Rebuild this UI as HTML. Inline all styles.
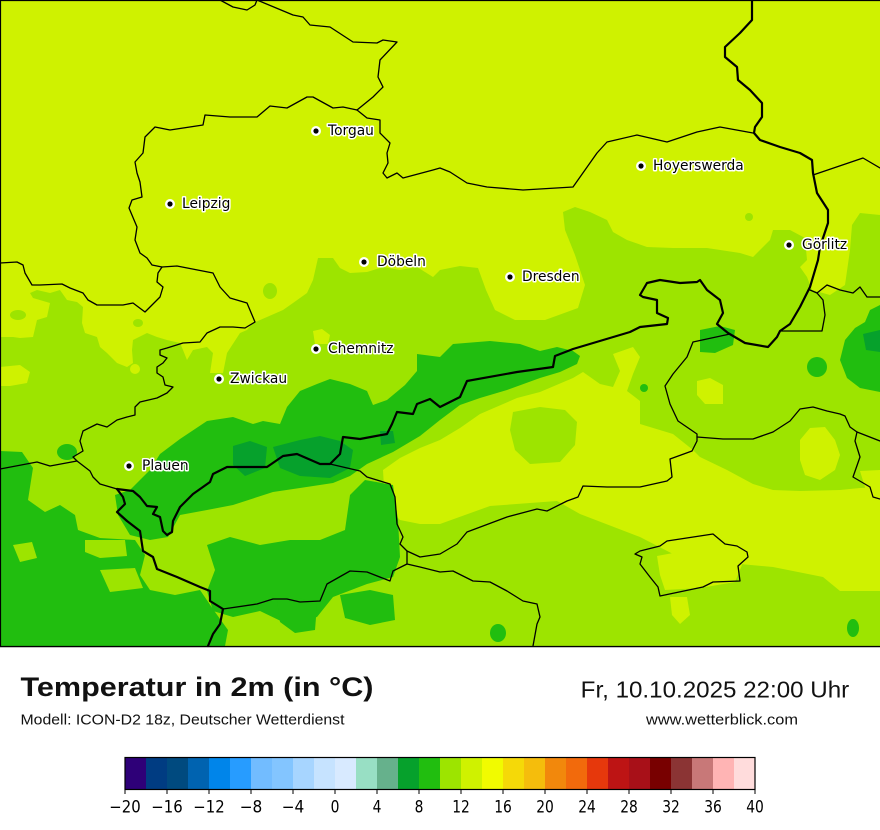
<!DOCTYPE html>
<html>
<head>
<meta charset="utf-8">
<style>
  html,body{margin:0;padding:0;background:#fff;}
  svg{display:block;}
</style>
</head>
<body>
<svg width="880" height="830" viewBox="0 0 880 830" xmlns="http://www.w3.org/2000/svg">
  <rect x="0" y="0" width="880" height="830" fill="#ffffff"/>
  <!-- MAP -->
  <g>
    <rect x="0" y="0" width="880" height="646" fill="#cff200"/>
    <!-- main 10-12 region -->
    <polygon fill="#9de400" points="0,337 13,337 20,338 33,337 37,320 47,317 50,303 33,298 30,293 37,290 50,293 60,290 67,300 77,302 83,307 82,323 85,333 97,337 100,347 107,353 117,363 127,367 133,363 132,350 133,340 147,333 157,337 167,340 180,343 183,350 187,360 193,350 207,347 213,353 210,373 223,373 227,353 240,333 247,330 253,323 267,317 283,310 293,303 307,293 313,280 318,258 333,258 340,268 350,273 367,272 383,267 400,270 417,267 433,277 440,270 460,266 478,268 486,290 495,310 515,320 545,320 578,308 585,285 575,255 565,230 563,212 575,207 590,212 607,220 613,232 627,240 647,247 673,248 707,248 740,253 753,257 770,240 773,230 790,230 805,238 807,260 800,267 807,277 812,290 830,295 845,285 850,250 852,225 860,213 880,215 880,646 0,646"/>
    <!-- small 10-12 blobs in yellow -->
    <ellipse cx="270" cy="291" rx="7" ry="8" fill="#9de400"/>
    <ellipse cx="18" cy="315" rx="8" ry="5" fill="#9de400"/>
    <ellipse cx="138" cy="323" rx="5" ry="4" fill="#9de400"/>
    <ellipse cx="749" cy="217" rx="4" ry="4" fill="#9de400"/>

    <!-- yellow overlays -->
    <polygon fill="#cff200" points="383,470 400,458 420,448 440,440 460,428 480,414 517,398 540,392 573,378 583,372 600,384 613,387 620,371 613,354 633,347 640,357 633,374 627,391 640,401 640,424 673,434 693,450 700,457 727,470 753,484 773,490 800,491 840,490 860,488 880,487 880,591 840,591 823,577 773,567 740,564 700,560 673,554 640,537 580,514 557,501 490,506 440,524 420,524 400,520 385,505"/>
    <polygon fill="#9de400" points="513,412 540,407 565,410 577,422 575,445 560,462 530,464 515,450 510,430"/>
    <polygon fill="#cff200" points="0,367 20,365 30,372 27,383 10,386 0,386"/>
    <polygon fill="#cff200" points="313,331 322,329 330,335 328,344 315,344"/>
    <ellipse cx="135" cy="369" rx="5" ry="5" fill="#cff200"/>
    <polygon fill="#cff200" points="697,381 710,378 723,385 723,404 705,404 697,395"/>
    <polygon fill="#cff200" points="800,440 810,428 825,427 835,440 840,455 835,470 820,480 805,475 800,460"/>
    <polygon fill="#cff200" points="860,471 880,470 880,497 868,497"/>
    <polygon fill="#cff200" points="657,556 700,548 735,552 742,565 735,582 700,588 665,590 660,575"/>
    <polygon fill="#cff200" points="670,597 687,597 690,615 680,624 672,615"/>

    <!-- 8-10 regions -->
    <polygon fill="#21be0f" points="160,454 180,439 207,421 233,417 253,424 263,421 280,424 287,407 300,391 317,384 330,379 350,384 367,391 373,405 387,400 405,385 417,371 417,354 440,357 453,344 490,341 520,344 540,351 557,347 573,351 580,356 577,364 560,372 540,378 507,390 480,398 460,405 440,420 420,436 393,452 367,464 350,476 333,483 300,488 273,492 233,505 207,510 180,515 168,537 150,540 130,535 118,515 115,495 130,490 150,470"/>
    <polygon fill="#21be0f" points="0,451 22,452 33,468 28,500 45,512 60,505 75,515 78,530 100,538 135,540 145,555 140,575 150,590 175,595 200,590 215,612 228,630 225,646 0,646"/>
    <ellipse cx="67" cy="452" rx="10" ry="8" fill="#21be0f"/>
    <polygon fill="#9de400" points="85,540 125,540 127,556 100,558 85,552"/>
    <polygon fill="#9de400" points="100,570 135,568 143,588 110,592"/>
    <polygon fill="#9de400" points="13,545 32,542 37,558 20,562"/>
    <polygon fill="#21be0f" points="207,545 230,537 260,545 290,540 320,540 345,530 350,495 365,480 393,485 398,520 400,557 393,577 367,584 333,597 317,617 287,624 260,611 233,617 213,611 207,591 215,570"/>
    <polygon fill="#21be0f" points="277,600 300,598 317,605 315,630 295,633 280,622"/>
    <polygon fill="#21be0f" points="340,595 370,590 393,595 395,620 370,625 345,618"/>
    <polygon fill="#21be0f" points="870,310 880,305 880,392 860,388 847,378 840,360 845,340 855,328 865,322"/>
    <ellipse cx="817" cy="367" rx="10" ry="10" fill="#21be0f"/>
    <polygon fill="#21be0f" points="700,330 720,326 735,330 733,345 715,353 700,352"/>
    <ellipse cx="498" cy="633" rx="8" ry="9" fill="#21be0f"/>
    <ellipse cx="853" cy="628" rx="6" ry="9" fill="#21be0f"/>
    <ellipse cx="644" cy="388" rx="4" ry="4" fill="#21be0f"/>

    <!-- 6-8 darkest -->
    <polygon fill="#06a12c" points="233,446 250,441 267,447 265,468 245,476 233,465"/>
    <polygon fill="#06a12c" points="273,447 300,440 320,436 340,441 353,450 350,468 330,478 300,476 280,468"/>
    <polygon fill="#06a12c" points="380,431 393,431 395,443 381,445"/>
    <polygon fill="#06a12c" points="863,334 880,330 880,352 866,350"/>

    <!-- thin borders -->
    <g fill="none" stroke="#000" stroke-width="1.3" stroke-linejoin="round" stroke-linecap="round">
      <polyline points="220,0 233,7 247,10 255,5 257,0"/>
      <polyline points="257,0 293,15 303,17 310,25 330,27 353,42 377,43 383,40 397,42 380,60 378,77 383,87 373,97 357,110"/>
      <polyline points="357,110 367,118 380,120 380,133 390,143 387,153 388,163 383,173 387,178 397,173 403,178 433,170 440,168 450,172 467,183 487,187 523,190 573,187 597,153 607,142 637,135 667,142 697,132 720,127 753,133"/>
      <polyline points="357,110 343,107 333,108 313,97 307,97 287,108 270,106 257,117 230,117 205,115 203,125 170,130 155,127 145,137 143,153 135,162 137,173 140,182 142,197 132,200 129,208 137,227 135,240 140,253 147,258 152,265 162,267 177,266 213,273 220,287 230,298 247,303 255,322 245,328 233,327 220,327 207,333 200,342 183,343 167,348 160,350 160,355 167,358 163,363 157,367 157,373 163,377 165,385 173,387 167,393 157,398 140,402 135,407 135,415 127,417 117,420 107,427 97,424 83,431 80,441 83,451 73,457 77,461 90,471 93,477 100,484 117,489"/>
      <polyline points="162,267 158,273 157,282 163,287 160,297 150,307 145,312 133,303 123,305 97,305 88,300 83,293 70,288 62,284 40,285 32,285 25,273 23,265 17,262 0,263"/>
      <polyline points="0,469 37,462 50,466 77,461"/>
      <polyline points="330,464 360,471 367,477 390,484 395,497 397,524 403,537 400,544 407,551 420,557 440,554 457,544 467,532 507,517 537,509 547,511 567,501 578,497 583,486 607,487 640,487 667,481 672,477 670,459 692,451 697,441 697,434 678,421 670,404 665,386 673,374 687,357 693,342 730,334"/>
      <polyline points="407,551 407,564 393,571 390,581 367,572 350,571 327,584 320,601 300,602 287,599 273,599 257,604 223,609"/>
      <polyline points="407,564 420,567 440,572 453,571 473,581 490,582 507,591 523,601 537,604 540,617 537,624 533,646"/>
      <polyline points="697,437 723,439 753,439 773,432 790,421 800,409 813,407 827,411 840,414 845,416 850,427 857,432 880,441"/>
      <polyline points="857,432 855,441 860,457 853,477 870,487 873,497 880,499"/>
      <polygon points="635,554 640,551 660,546 667,541 713,534 725,544 737,546 747,552 748,557 738,566 740,581 713,582 703,587 660,596 658,587 650,577 640,564 642,557"/>
      <polyline points="813,175 863,158 880,168"/>
      <polyline points="810,290 817,293 827,285 840,290 853,293 860,287 867,297 880,297"/>
      <polyline points="817,293 823,300 825,315 822,331 780,331"/>
    </g>
    <!-- thick national border -->
    <g fill="none" stroke="#000" stroke-width="2.2" stroke-linejoin="round" stroke-linecap="round">
      <polyline points="117,489 133,491 140,497 147,506 157,507 153,514 160,517 163,531 167,535 172,532 173,521 180,507 193,494 210,482 213,474 227,467 267,467 283,456 297,454 320,464 330,464 340,454 343,437 360,439 387,434 392,424 397,412 413,414 417,404 430,399 440,407 460,397 467,381 517,372 553,367 555,356 573,349 630,332 640,327 667,324 668,318 657,313 657,300 643,297 640,295 647,283 660,280 680,283 697,282 700,280 707,290 720,300 723,313 717,324 728,333 745,343 768,347 777,337 780,331 790,324 800,307 810,287 818,260 820,247 828,223 828,210 817,193 813,173 812,160 800,153 780,147 760,140 754,133 755,127 762,117 762,103 750,90 738,80 737,67 725,57 725,47 740,33 752,20 752,0"/>
      <polyline points="117,489 123,497 125,504 117,512 127,521 140,531 143,551 153,557 157,569 177,577 200,587 210,591 210,601 223,609 220,624 213,634 208,646"/>
    </g>
    <!-- frame -->
    <line x1="0" y1="0.5" x2="880" y2="0.5" stroke="#000" stroke-width="1.2"/>
    <line x1="0.5" y1="0" x2="0.5" y2="647" stroke="#000" stroke-width="1.2"/>
    <line x1="0" y1="646.6" x2="880" y2="646.6" stroke="#000" stroke-width="1.4"/>

    <!-- cities -->
    <g>
      <g fill="#fff"><circle cx="316" cy="131" r="5"/><circle cx="170" cy="204" r="5"/><circle cx="364" cy="262" r="5"/><circle cx="641" cy="166" r="5"/><circle cx="789" cy="245" r="5"/><circle cx="510" cy="277" r="5"/><circle cx="316" cy="349" r="5"/><circle cx="219" cy="379" r="5"/><circle cx="129" cy="466" r="5"/></g>
      <g fill="#000"><circle cx="316" cy="131" r="2.6"/><circle cx="170" cy="204" r="2.6"/><circle cx="364" cy="262" r="2.6"/><circle cx="641" cy="166" r="2.6"/><circle cx="789" cy="245" r="2.6"/><circle cx="510" cy="277" r="2.6"/><circle cx="316" cy="349" r="2.6"/><circle cx="219" cy="379" r="2.6"/><circle cx="129" cy="466" r="2.6"/></g>
      <g font-family="'DejaVu Sans', 'Liberation Sans', sans-serif" font-size="13.8" fill="#000" stroke="#fff" stroke-width="3" stroke-linejoin="round" paint-order="stroke">
        <text x="328" y="135">Torgau</text>
        <text x="182" y="208">Leipzig</text>
        <text x="377" y="266">Döbeln</text>
        <text x="653" y="170">Hoyerswerda</text>
        <text x="802" y="249">Görlitz</text>
        <text x="522" y="281">Dresden</text>
        <text x="328" y="353">Chemnitz</text>
        <text x="230" y="383">Zwickau</text>
        <text x="142" y="470">Plauen</text>
      </g>
    </g>
  </g>

  <!-- TITLES -->
  <text x="20.5" y="696" font-family="'Liberation Sans', sans-serif" font-weight="bold" font-size="27" fill="#111" textLength="353" lengthAdjust="spacingAndGlyphs">Temperatur in 2m (in °C)</text>
  <text x="20.5" y="724.3" font-family="'Liberation Sans', sans-serif" font-size="14.5" fill="#111" textLength="324" lengthAdjust="spacingAndGlyphs">Modell: ICON-D2 18z, Deutscher Wetterdienst</text>
  <text x="580.7" y="697.5" font-family="'Liberation Sans', sans-serif" font-size="23" fill="#111" textLength="268.5" lengthAdjust="spacingAndGlyphs">Fr, 10.10.2025 22:00 Uhr</text>
  <text x="646" y="724.3" font-family="'Liberation Sans', sans-serif" font-size="14.5" fill="#111" textLength="152" lengthAdjust="spacingAndGlyphs">www.wetterblick.com</text>

  <!-- COLORBAR -->
  <g>
    <rect x="125" y="757.5" width="21" height="32" fill="#2e0078"/>
    <rect x="146" y="757.5" width="21" height="32" fill="#003c82"/>
    <rect x="167" y="757.5" width="21" height="32" fill="#004a7f"/>
    <rect x="188" y="757.5" width="21" height="32" fill="#0063b0"/>
    <rect x="209" y="757.5" width="21" height="32" fill="#0085ea"/>
    <rect x="230" y="757.5" width="21" height="32" fill="#279cff"/>
    <rect x="251" y="757.5" width="21" height="32" fill="#72bcff"/>
    <rect x="272" y="757.5" width="21" height="32" fill="#83c5ff"/>
    <rect x="293" y="757.5" width="21" height="32" fill="#a7d5ff"/>
    <rect x="314" y="757.5" width="21" height="32" fill="#c6e3ff"/>
    <rect x="335" y="757.5" width="21" height="32" fill="#d8eaff"/>
    <rect x="356" y="757.5" width="21" height="32" fill="#98dfc4"/>
    <rect x="377" y="757.5" width="21" height="32" fill="#66b18c"/>
    <rect x="398" y="757.5" width="21" height="32" fill="#06a12c"/>
    <rect x="419" y="757.5" width="21" height="32" fill="#21be0f"/>
    <rect x="440" y="757.5" width="21" height="32" fill="#9de400"/>
    <rect x="461" y="757.5" width="21" height="32" fill="#cff200"/>
    <rect x="482" y="757.5" width="21" height="32" fill="#f1fb00"/>
    <rect x="503" y="757.5" width="21" height="32" fill="#f5d908"/>
    <rect x="524" y="757.5" width="21" height="32" fill="#f5bd0c"/>
    <rect x="545" y="757.5" width="21" height="32" fill="#f2880c"/>
    <rect x="566" y="757.5" width="21" height="32" fill="#f26a0c"/>
    <rect x="587" y="757.5" width="21" height="32" fill="#e6380c"/>
    <rect x="608" y="757.5" width="21" height="32" fill="#bd1414"/>
    <rect x="629" y="757.5" width="21" height="32" fill="#a81018"/>
    <rect x="650" y="757.5" width="21" height="32" fill="#780000"/>
    <rect x="671" y="757.5" width="21" height="32" fill="#8b3434"/>
    <rect x="692" y="757.5" width="21" height="32" fill="#c87878"/>
    <rect x="713" y="757.5" width="21" height="32" fill="#ffb4b4"/>
    <rect x="734" y="757.5" width="21" height="32" fill="#ffdcdc"/>
    <rect x="125" y="757.5" width="630" height="32" fill="none" stroke="#000" stroke-width="1.2"/>
    <g stroke="#000" stroke-width="1">
      <line x1="125" y1="789.5" x2="125" y2="794"/><line x1="167" y1="789.5" x2="167" y2="794"/>
      <line x1="209" y1="789.5" x2="209" y2="794"/><line x1="251" y1="789.5" x2="251" y2="794"/>
      <line x1="293" y1="789.5" x2="293" y2="794"/><line x1="335" y1="789.5" x2="335" y2="794"/>
      <line x1="377" y1="789.5" x2="377" y2="794"/><line x1="419" y1="789.5" x2="419" y2="794"/>
      <line x1="461" y1="789.5" x2="461" y2="794"/><line x1="503" y1="789.5" x2="503" y2="794"/>
      <line x1="545" y1="789.5" x2="545" y2="794"/><line x1="587" y1="789.5" x2="587" y2="794"/>
      <line x1="629" y1="789.5" x2="629" y2="794"/><line x1="671" y1="789.5" x2="671" y2="794"/>
      <line x1="713" y1="789.5" x2="713" y2="794"/><line x1="755" y1="789.5" x2="755" y2="794"/>
    </g>
    <g font-family="'DejaVu Sans', 'Liberation Sans', sans-serif" font-size="16.5" fill="#000" text-anchor="middle">
      <text x="125" y="812.7" textLength="31.4" lengthAdjust="spacingAndGlyphs">−20</text>
      <text x="167" y="812.7" textLength="31.4" lengthAdjust="spacingAndGlyphs">−16</text>
      <text x="209" y="812.7" textLength="31.4" lengthAdjust="spacingAndGlyphs">−12</text>
      <text x="251" y="812.7" textLength="22.6" lengthAdjust="spacingAndGlyphs">−8</text>
      <text x="293" y="812.7" textLength="22.6" lengthAdjust="spacingAndGlyphs">−4</text>
      <text x="335" y="812.7" textLength="8.8" lengthAdjust="spacingAndGlyphs">0</text>
      <text x="377" y="812.7" textLength="8.8" lengthAdjust="spacingAndGlyphs">4</text>
      <text x="419" y="812.7" textLength="8.8" lengthAdjust="spacingAndGlyphs">8</text>
      <text x="461" y="812.7" textLength="17.6" lengthAdjust="spacingAndGlyphs">12</text>
      <text x="503" y="812.7" textLength="17.6" lengthAdjust="spacingAndGlyphs">16</text>
      <text x="545" y="812.7" textLength="17.6" lengthAdjust="spacingAndGlyphs">20</text>
      <text x="587" y="812.7" textLength="17.6" lengthAdjust="spacingAndGlyphs">24</text>
      <text x="629" y="812.7" textLength="17.6" lengthAdjust="spacingAndGlyphs">28</text>
      <text x="671" y="812.7" textLength="17.6" lengthAdjust="spacingAndGlyphs">32</text>
      <text x="713" y="812.7" textLength="17.6" lengthAdjust="spacingAndGlyphs">36</text>
      <text x="755" y="812.7" textLength="17.6" lengthAdjust="spacingAndGlyphs">40</text>
    </g>
  </g>
</svg>
</body>
</html>
